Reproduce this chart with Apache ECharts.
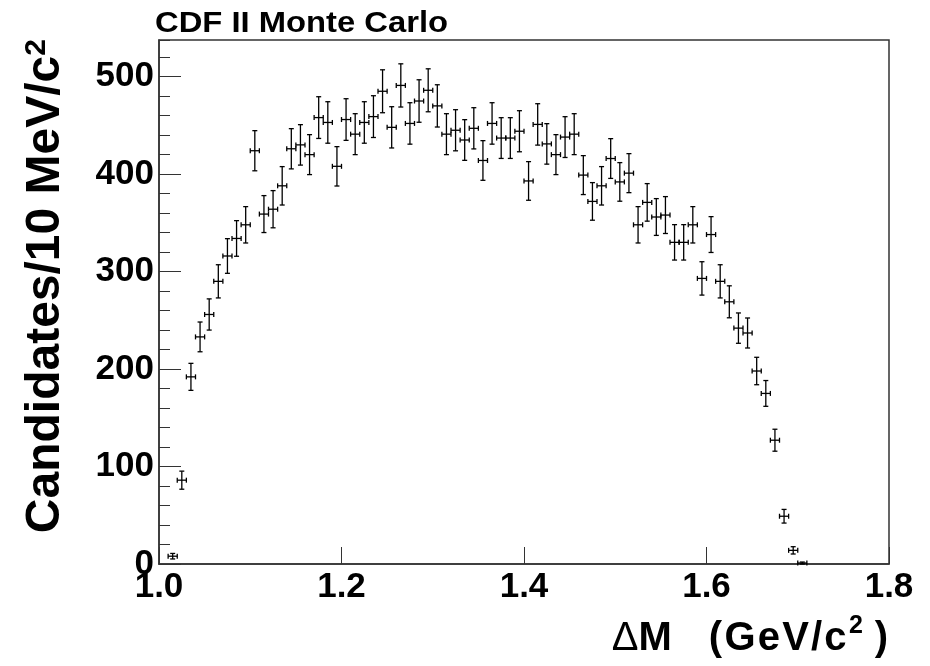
<!DOCTYPE html>
<html>
<head>
<meta charset="utf-8">
<script src="https://cdn.jsdelivr.net/npm/echarts@6/dist/echarts.min.js"></script>
<style>
html, body { margin: 0; padding: 0; background: #fff; }
#main { width: 930px; height: 666px; }
</style>
</head>
<body>
<div id="main"></div>
<script>
// bin centres (GeV/c^2), 10 MeV bins
var binCenters = [1.015, 1.025, 1.035, 1.045, 1.055, 1.065, 1.075, 1.085, 1.095, 1.105,
    1.115, 1.125, 1.135, 1.145, 1.155, 1.165, 1.175, 1.185, 1.195, 1.205,
    1.215, 1.225, 1.235, 1.245, 1.255, 1.265, 1.275, 1.285, 1.295, 1.305,
    1.315, 1.325, 1.335, 1.345, 1.355, 1.365, 1.375, 1.385, 1.395, 1.405,
    1.415, 1.425, 1.435, 1.445, 1.455, 1.465, 1.475, 1.485, 1.495, 1.505,
    1.515, 1.525, 1.535, 1.545, 1.555, 1.565, 1.575, 1.585, 1.595, 1.605,
    1.615, 1.625, 1.635, 1.645, 1.655, 1.665, 1.675, 1.685, 1.695, 1.705];
var candidates = [8, 86, 192, 233, 256, 290, 316, 334, 348, 424,
    359, 364, 388, 426, 430, 420, 458, 453, 408, 456,
    441, 453, 459, 485, 448, 491, 452, 475, 486, 470,
    441, 445, 435, 447, 414, 452, 437, 437, 444, 393,
    451, 431, 420, 438, 441, 399, 372, 388, 416, 392,
    401, 348, 371, 356, 358, 330, 330, 348, 293, 338,
    290, 269, 242, 237, 198, 175, 127, 49, 14, 1];
var binWidth = 0.01;
var xTicks = [1.0, 1.2, 1.4, 1.6, 1.8];
var yTicks = [0, 100, 200, 300, 400, 500];

var points = binCenters.map(function (x, i) { return [x, candidates[i]]; });

var myChart = echarts.init(document.getElementById('main'));
var font = 'Liberation Sans, Arial, Helvetica, sans-serif';
var axisCol = '#333';

function tok(size, extra) {
    var s = { fontFamily: font, fontSize: size, fontWeight: 'bold', fill: '#000' };
    for (var k in extra) s[k] = extra[k];
    return s;
}

myChart.setOption({
    backgroundColor: '#fff',
    animation: false,
    grid: {
        left: 159, right: 41, top: 40, bottom: 102,
        show: true, borderColor: axisCol, borderWidth: 1.5, backgroundColor: '#fff'
    },
    xAxis: {
        type: 'value',
        min: xTicks[0], max: xTicks[xTicks.length - 1], interval: 0.2,
        axisLine: { show: true, lineStyle: { color: axisCol, width: 1.5 } },
        axisTick: { show: true, inside: true, length: 17, lineStyle: { color: axisCol } },
        splitLine: { show: false },
        axisLabel: {
            margin: 6, color: '#000', fontFamily: font, fontSize: 35, fontWeight: 'bold',
            formatter: function (v) { return v.toFixed(1); }
        }
    },
    yAxis: [{
        type: 'value',
        min: 0, max: 537.6, interval: 100,
        axisLine: { show: true, lineStyle: { color: axisCol, width: 1.5 } },
        axisTick: { show: true, inside: true, length: 22, lineStyle: { color: axisCol } },
        splitLine: { show: false },
        axisLabel: {
            margin: 5, color: '#000', fontFamily: font, fontSize: 35, fontWeight: 'bold',
            showMaxLabel: false,
            formatter: function (v) { return yTicks.indexOf(v) >= 0 ? String(v) : ''; }
        }
    }, {
        // minor ticks every 20
        type: 'value', position: 'left',
        min: 0, max: 537.6, interval: 20,
        axisLine: { show: false },
        axisTick: { show: true, inside: true, length: 11, lineStyle: { color: axisCol } },
        axisLabel: { show: false },
        splitLine: { show: false }
    }],
    graphic: [{
        // plot title
        type: 'text',
        x: 155, y: 9,
        scaleX: 1.13,
        style: {
            text: 'CDF II Monte Carlo',
            font: 'bold 29px ' + font,
            fill: '#000',
            align: 'left', verticalAlign: 'top'
        }
    }, {
        type: 'text',
        x: 46, y: 39,
        rotation: Math.PI / 2,
        style: {
            text: '{m|Candidates/10 MeV/c}{s|2}',
            align: 'right', verticalAlign: 'middle',
            rich: {
                m: tok(48),
                s: tok(30, { verticalAlign: 'top' })
            }
        }
    }, {
        type: 'text',
        x: 888, y: 639,
        style: {
            text: '{d|Δ}{m|M}{g|(}{p|G}{p|e}{p|V}{p|/}{p|c}{q|)}',
            align: 'right', verticalAlign: 'middle',
            rich: {
                d: tok(40, { fontWeight: 'normal' }),
                m: tok(40),
                g: tok(40, { padding: [0, 1.1, 0, 37] }),
                p: tok(40, { padding: [0, 1.1, 0, 1.1] }),
                q: tok(40, { padding: [0, 0, 0, 27] })
            }
        }
    }, {
        // superscript of the x title
        type: 'text',
        x: 849, y: 614,
        style: {
            text: '2',
            font: 'bold 25px ' + font,
            fill: '#000',
            align: 'left', verticalAlign: 'top'
        }
    }],
    series: [{
        type: 'custom',
        data: points,
        renderItem: function (params, api) {
            var x = api.value(0), y = api.value(1);
            var err = Math.sqrt(y); // Poisson errors
            var c = api.coord([x, y]);
            var hi = api.coord([x, y + err]);
            var lo = api.coord([x, y - err]);
            var l = api.coord([x - binWidth / 2, y]);
            var r = api.coord([x + binWidth / 2, y]);
            var cap = 2.5;
            var st = { stroke: '#000', lineWidth: 1.3 };
            return {
                type: 'group',
                children: [
                    { type: 'line', shape: { x1: c[0], y1: hi[1], x2: c[0], y2: lo[1] }, style: st },
                    { type: 'line', shape: { x1: c[0] - cap, y1: hi[1], x2: c[0] + cap, y2: hi[1] }, style: st },
                    { type: 'line', shape: { x1: c[0] - cap, y1: lo[1], x2: c[0] + cap, y2: lo[1] }, style: st },
                    { type: 'line', shape: { x1: l[0], y1: c[1], x2: r[0], y2: c[1] }, style: st },
                    { type: 'line', shape: { x1: l[0], y1: c[1] - cap, x2: l[0], y2: c[1] + cap }, style: st },
                    { type: 'line', shape: { x1: r[0], y1: c[1] - cap, x2: r[0], y2: c[1] + cap }, style: st }
                ]
            };
        }
    }]
});
</script>
</body>
</html>
